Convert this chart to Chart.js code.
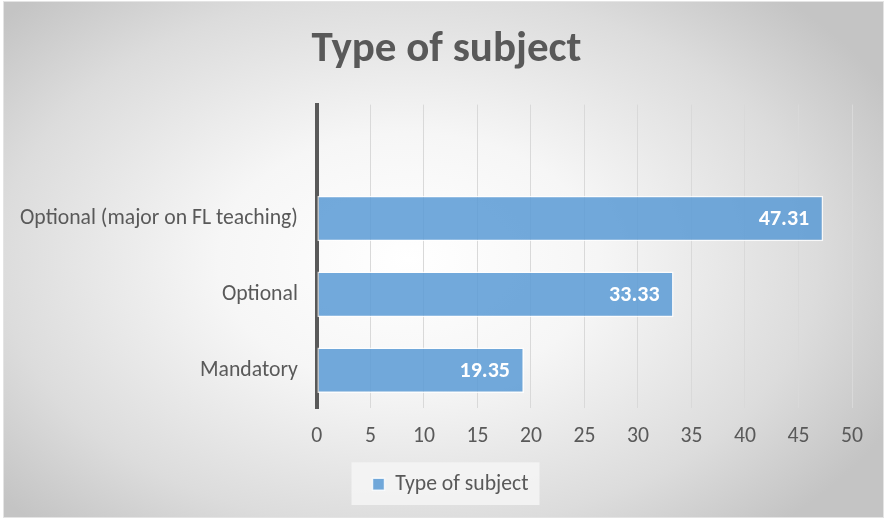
<!DOCTYPE html>
<html lang="en">
  <head>
    <meta charset="UTF-8" />
    <title>Type of subject</title>
    <script src="https://cdn.jsdelivr.net/npm/chart.js"></script>
    <style>
      body {
        margin: 0;
        background: #ffffff;
      }
      .frame {
        position: absolute;
        left: 3px;
        top: 1px;
        width: 879px;
        height: 515px;
        border: 1px solid #e4e4e4;
        background: radial-gradient(
          ellipse 62% 70% at 46% 50%,
          #ffffff 0%,
          #f6f6f6 35%,
          #dcdcdc 75%,
          #c4c4c4 100%
        );
      }
      canvas {
        position: absolute;
        left: 0;
        top: 0;
      }
    </style>
  </head>
  <body>
    <div class="frame"></div>
    <canvas id="chart" width="885" height="519"></canvas>

    <script>
      // data
      const categories = ["", "Optional (major on FL teaching)", "Optional", "Mandatory"];
      const values = [null, 47.31, 33.33, 19.35];
      const seriesName = "Type of subject";
      const xTicks = [0, 5, 10, 15, 20, 25, 30, 35, 40, 45, 50];

      const FONT = "Carlito, Lato, 'Open Sans', sans-serif";
      const GREY = "#595959";

      // nudge title and legend so they sit where the original has them
      const nudge = {
        id: "nudge",
        afterLayout(chart) {
          const t = chart.titleBlock;
          if (t) {
            t.left += 16;
            t.right += 16;
          }
          const lg = chart.legend;
          if (lg) {
            lg.left += 20;
            lg.right += 20;
          }
        },
      };

      // legend background box
      const legendBox = {
        id: "legendBox",
        beforeDraw(chart) {
          const lg = chart.legend;
          if (!lg) return;
          const cx = (lg.left + lg.right) / 2;
          const ctx = chart.ctx;
          ctx.save();
          ctx.fillStyle = "rgba(244,244,244,0.9)";
          ctx.fillRect(cx - 99, lg.top - 2, 188, lg.height + 2);
          ctx.restore();
        },
      };

      // value labels inside bar ends
      const barLabels = {
        id: "barLabels",
        afterDatasetsDraw(chart) {
          const ctx = chart.ctx;
          const meta = chart.getDatasetMeta(0);
          ctx.save();
          ctx.fillStyle = "#ffffff";
          ctx.font = "bold 22px " + FONT;
          ctx.textAlign = "right";
          ctx.textBaseline = "middle";
          meta.data.forEach((bar, i) => {
            if (values[i] == null) return;
            ctx.fillText(values[i].toFixed(2), bar.x - 14, bar.y + 1);
          });
          ctx.restore();
        },
      };

      new Chart(document.getElementById("chart"), {
        type: "bar",
        data: {
          labels: categories,
          datasets: [
            {
              label: seriesName,
              data: values,
              backgroundColor: "rgba(91,155,213,0.86)",
              borderColor: "rgba(255,255,255,0.8)",
              borderWidth: 1.5,
              borderSkipped: false,
              categoryPercentage: 0.6,
              barPercentage: 1,
            },
          ],
        },
        options: {
          indexAxis: "y",
          responsive: false,
          animation: false,
          layout: { padding: { left: 9, right: 33, top: 0, bottom: 14 } },
          scales: {
            x: {
              min: 0,
              max: 50,
              afterBuildTicks: (s) => (s.ticks = xTicks.map((v) => ({ value: v }))),
              grid: { color: "#d9d9d9", drawTicks: false },
              border: { display: false },
              ticks: { color: GREY, font: { family: FONT, size: 21.7 }, padding: 15 },
            },
            y: {
              grid: { display: false },
              border: { color: GREY, width: 4 },
              ticks: { color: GREY, font: { family: FONT, size: 21.7 }, padding: 11 },
            },
          },
          plugins: {
            title: {
              display: true,
              text: seriesName,
              color: GREY,
              font: { family: FONT, size: 43, weight: "bold" },
              padding: { top: 24, bottom: 29 },
            },
            legend: {
              position: "bottom",
              labels: {
                color: GREY,
                font: { family: FONT, size: 21.7 },
                boxWidth: 12,
                boxHeight: 12,
                padding: 9,
              },
            },
            tooltip: { enabled: false },
          },
        },
        plugins: [nudge, legendBox, barLabels],
      });
    </script>
  </body>
</html>
